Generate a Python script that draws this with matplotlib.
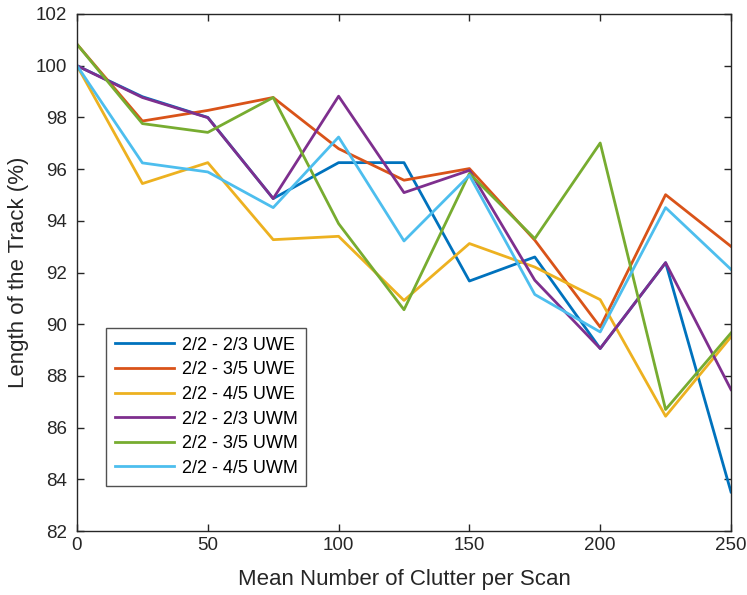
import matplotlib

matplotlib.use("Agg")

import matplotlib.pyplot as plt
import numpy as np

plt.rcParams["font.family"] = ["Liberation Sans", "DejaVu Sans"]

clutter = [0, 25, 50, 75, 100, 125, 150, 175, 200, 225, 250]

uwe_23 = [100.0, 98.8, 98.0, 94.86, 96.25, 96.25, 91.67, 92.6, 89.06, 92.38, 83.51]
uwe_35 = [100.83, 97.86, 98.27, 98.77, 96.79, 95.57, 96.02, 93.25, 89.89, 95.01, 93.01]
uwe_45 = [100.0, 95.44, 96.25, 93.27, 93.4, 90.92, 93.12, 92.21, 90.95, 86.44, 89.51]
uwm_23 = [100.0, 98.77, 97.99, 94.86, 98.82, 95.09, 95.95, 91.7, 89.06, 92.38, 87.47]
uwm_35 = [100.83, 97.76, 97.42, 98.77, 93.89, 90.56, 95.83, 93.31, 97.01, 86.7, 89.66]
uwm_45 = [100.0, 96.24, 95.89, 94.51, 97.24, 93.22, 95.76, 91.15, 89.7, 94.51, 92.12]

series = [
    ("2/2 - 2/3 UWE", uwe_23, "#0072BD"),
    ("2/2 - 3/5 UWE", uwe_35, "#D95319"),
    ("2/2 - 4/5 UWE", uwe_45, "#EDB120"),
    ("2/2 - 2/3 UWM", uwm_23, "#7E2F8E"),
    ("2/2 - 3/5 UWM", uwm_35, "#77AC30"),
    ("2/2 - 4/5 UWM", uwm_45, "#4DBEEE"),
]

fig = plt.figure(figsize=(7.47, 5.95), dpi=100)
ax = fig.add_axes([77 / 747, 1 - 531 / 595, (731 - 77) / 747, (531 - 14) / 595])

for label, vals, color in series:
    ax.plot(clutter, vals, color=color, linewidth=2.0, label=label)

ax.set_xlim(0, 250)
ax.set_ylim(82, 102)
ax.set_xticks(np.arange(0, 251, 50))
ax.set_yticks(np.arange(82, 103, 2))

for side in ax.spines.values():
    side.set_color("#262626")
    side.set_linewidth(1.0)
ax.tick_params(direction="in", top=True, right=True, length=5, width=1.0,
               color="#262626", labelsize=13.5, labelcolor="#262626")
ax.tick_params(axis="x", pad=4)
ax.tick_params(axis="y", pad=7)

ax.set_xlabel("Mean Number of Clutter per Scan", fontsize=16, color="#262626", labelpad=11)
ax.set_ylabel("Length of the Track (%)", fontsize=16, color="#262626", labelpad=5)

leg = ax.legend(loc="lower left", bbox_to_anchor=((105.7 - 77) / 654, (531 - 485.7) / 517),
                fontsize=13, frameon=True, fancybox=False, edgecolor="#262626",
                handlelength=3.3, handletextpad=0.4, labelspacing=0.42,
                borderaxespad=0, borderpad=0.5)
leg.get_frame().set_linewidth(1.0)

fig.savefig("out.png", dpi=100)
